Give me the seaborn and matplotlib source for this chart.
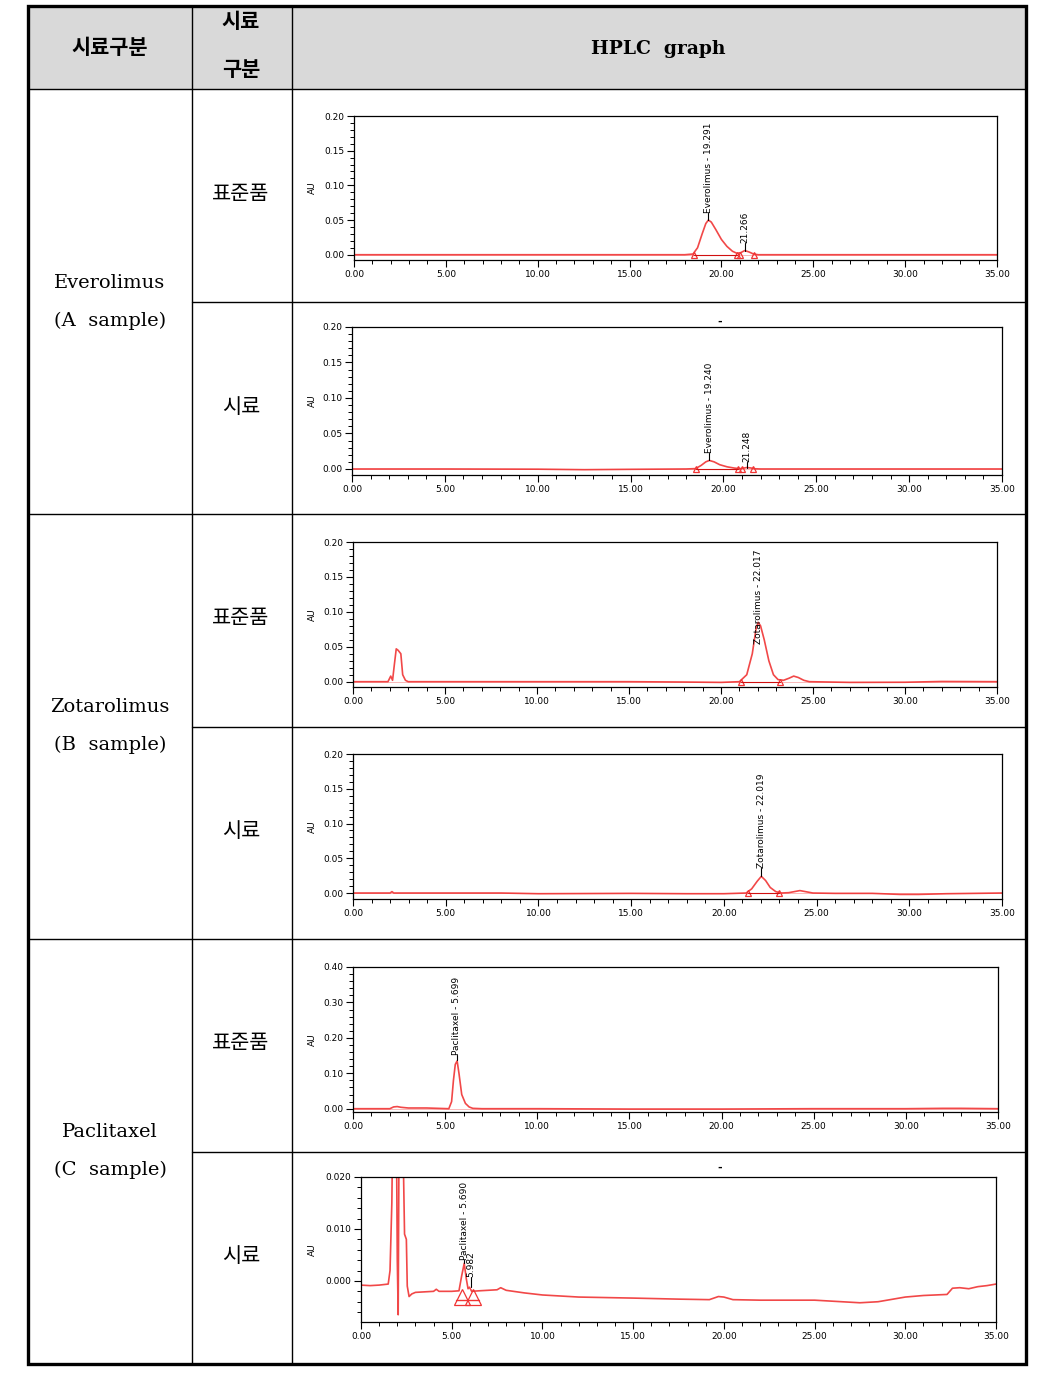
import numpy as np
import seaborn as sns
import matplotlib
matplotlib.use("Agg")
import matplotlib.pyplot as plt
from matplotlib.lines import Line2D
from matplotlib.patches import Rectangle
from matplotlib.ticker import MultipleLocator, FormatStrFormatter

# ---- data ----
# Everolimus standard
ever_std_t = [0, 5, 10, 15, 18.0, 18.45, 18.7, 18.95, 19.15, 19.29, 19.45, 19.7, 20.0, 20.3,
              20.6, 20.85, 21.05, 21.27, 21.5, 21.75, 22.0, 25, 30, 35]
ever_std_au = [0, 0, 0, 0, 0, 0.001, 0.010, 0.030, 0.045, 0.050, 0.047, 0.036, 0.022, 0.012,
               0.005, 0.002, 0.003, 0.006, 0.004, 0.001, 0.0, 0, 0, 0]
# Everolimus sample
ever_smp_t = [0, 5, 10, 12.5, 15, 18.0, 18.5, 18.8, 19.05, 19.24, 19.5, 19.8, 20.2, 20.6,
              20.9, 21.05, 21.25, 21.45, 21.7, 22.0, 25, 30, 35]
ever_smp_au = [0, 0, -0.0003, -0.001, -0.0005, 0, 0.0005, 0.005, 0.010, 0.012, 0.010, 0.006,
               0.003, 0.0012, 0.0005, 0.001, 0.002, 0.0015, 0.0003, 0, 0, 0, 0]
# Zotarolimus standard
zota_std_t = [0, 1.9, 2.05, 2.15, 2.25, 2.35, 2.45, 2.6, 2.7, 2.85, 3.0, 5, 10, 15, 18, 20,
              21.0, 21.4, 21.7, 21.9, 22.02, 22.15, 22.35, 22.6, 22.85, 23.1, 23.4, 23.7,
              23.95, 24.2, 24.5, 24.8, 27, 30, 32, 35]
zota_std_au = [0, 0, 0.008, 0.002, 0.025, 0.047, 0.045, 0.040, 0.010, 0.002, 0, 0, 0, 0,
               -0.0005, -0.001, 0, 0.010, 0.040, 0.075, 0.085, 0.080, 0.060, 0.030, 0.010,
               0.003, 0.002, 0.005, 0.008, 0.006, 0.002, 0, -0.001, -0.0008, 0.0003, 0]
# Zotarolimus sample
zota_smp_t = [0, 2.0, 2.1, 2.2, 5, 8, 9, 10, 15, 18, 20, 21.2, 21.5, 21.8, 22.02, 22.25,
              22.5, 22.8, 23.1, 23.5, 23.8, 24.1, 24.4, 24.8, 26, 28, 29.5, 30.5, 32, 35]
zota_smp_au = [0, 0, 0.002, 0.0, 0, 0, -0.0005, -0.001, -0.0005, -0.001, -0.001, 0, 0.006,
               0.017, 0.024, 0.018, 0.008, 0.002, 0, 0.0005, 0.002, 0.0035, 0.002, 0,
               -0.0005, -0.0005, -0.002, -0.002, -0.001, 0]
# Paclitaxel standard
pacl_std_t = [0, 2.0, 2.2, 2.4, 2.6, 3.0, 4.0, 5.2, 5.35, 5.45, 5.55, 5.65, 5.75, 5.9, 6.1,
              6.3, 6.5, 7, 10, 15, 20, 25, 30, 32, 33, 35]
pacl_std_au = [0, 0, 0.005, 0.006, 0.004, 0.002, 0.002, 0.0, 0.020, 0.080, 0.125, 0.135,
               0.100, 0.040, 0.015, 0.005, 0.001, 0, 0, -0.001, -0.001, 0, 0, 0.001, 0.001, 0]
# Paclitaxel sample
pacl_smp_t = [0, 0.5, 1.0, 1.5, 1.6, 1.7, 1.75, 1.85, 1.95, 2.0, 2.05, 2.1, 2.2, 2.3, 2.4,
              2.5, 2.55, 2.65, 2.8, 3.0, 3.5, 4.0, 4.15, 4.3, 5.0, 5.4, 5.55, 5.69, 5.8,
              5.9, 5.98, 6.1, 6.5, 7.0, 7.5, 7.7, 8.0, 9.0, 10.0, 12.0, 15.0, 17.5, 19.2,
              19.7, 20.0, 20.5, 22.0, 24.0, 25.0, 27.5, 28.5, 30.0, 31.0, 32.3, 32.6, 33.0,
              33.5, 34.0, 34.5, 35.0]
pacl_smp_au = [-0.0008, -0.0009, -0.0008, -0.0006, 0.002, 0.015, 0.030, 0.030, 0.030, 0.004,
               -0.0065, 0.030, 0.030, 0.030, 0.009, 0.008, -0.001, -0.003, -0.0025, -0.0022,
               -0.0021, -0.0020, -0.0016, -0.0020, -0.0020, -0.0019, 0.0010, 0.0034, 0.0005,
               -0.0015, -0.0012, -0.0020, -0.0019, -0.0018, -0.0017, -0.0013, -0.0018,
               -0.0023, -0.0027, -0.0031, -0.0033, -0.0035, -0.0036, -0.0030, -0.0031,
               -0.0036, -0.0037, -0.0037, -0.0037, -0.0042, -0.0040, -0.0031, -0.0028,
               -0.0026, -0.0014, -0.0013, -0.0015, -0.0011, -0.0009, -0.0006]

# peak labels: (text, retention time, peak top, text start)
ever_std_peaks = [("Everolimus - 19.291", 19.29, 0.050, 0.060), ("21.266", 21.27, 0.006, 0.0165)]
ever_smp_peaks = [("Everolimus - 19.240", 19.24, 0.012, 0.023), ("21.248", 21.25, 0.002, 0.010)]
zota_std_peaks = [("Zotarolimus - 22.017", 22.02, 0.085, 0.054)]
zota_smp_peaks = [("Zotarolimus - 22.019", 22.02, 0.024, 0.036)]
pacl_std_peaks = [("Paclitaxel - 5.699", 5.62, 0.138, 0.152)]
pacl_smp_peaks = [("Paclitaxel - 5.690", 5.69, 0.0034, 0.0040), ("5.982", 6.05, -0.0012, 0.0008)]

# integration boundaries (time, au)
ever_std_bounds = [(18.5, 0.0), (20.85, 0.0), (21.0, 0.0), (21.8, 0.0)]
ever_smp_bounds = [(18.5, -0.0005), (20.8, -0.0005), (21.0, -0.0005), (21.6, -0.0005)]
zota_std_bounds = [(21.1, -0.0005), (23.2, -0.0005)]
zota_smp_bounds = [(21.3, -0.0005), (22.95, -0.0005)]
pacl_std_bounds = []
pacl_smp_bounds = [(5.55, -0.0030), (6.15, -0.0030)]

drug_names = ["Everolimus", "Zotarolimus", "Paclitaxel"]
sample_names = ["(A  sample)", "(B  sample)", "(C  sample)"]
kind_names = ["표준품", "시료"]
header_texts = ["시료구분", "시료\n구분", "HPLC  graph"]

# ---- figure / table layout (pixels) ----
W, H = 1039, 1373
RED = "#f03434"

sns.set_style("ticks")
plt.rcParams["font.family"] = ["DejaVu Sans", "Noto Sans CJK KR"]
for k in ["text.color", "axes.labelcolor", "xtick.color", "ytick.color", "axes.edgecolor"]:
    plt.rcParams[k] = "black"

fig = plt.figure(figsize=(W / 100, H / 100), dpi=100)


def fx(px):
    return px / W


def fy(py):
    return 1 - py / H


def hline(y, x0, x1, lw=1.0):
    fig.add_artist(Line2D([fx(x0), fx(x1)], [fy(y), fy(y)], color="black", lw=lw))


def vline(x, y0, y1, lw=1.0):
    fig.add_artist(Line2D([fx(x), fx(x)], [fy(y0), fy(y1)], color="black", lw=lw))


L, R, T, B = 28, 1026, 6, 1364
C1, C2 = 191.5, 291.5
HB = 89
fig.add_artist(Rectangle((fx(L), fy(HB)), fx(R) - fx(L), fy(T) - fy(HB),
                         facecolor="#d9d9d9", edgecolor="none", zorder=0))
hline(HB, L, R)
for y in [302, 727, 1152]:
    hline(y, C1, R)
for y in [514, 939]:
    hline(y, L, R)
vline(C1, T, B)
vline(C2, T, B)
fig.add_artist(Rectangle((fx(L), fy(B)), fx(R) - fx(L), fy(T) - fy(B),
                         facecolor="none", edgecolor="black", lw=2.4, zorder=5))

# header
fig.text(fx(110), fy(47), header_texts[0], ha="center", va="center", fontsize=15,
         fontweight="bold", family="Noto Sans CJK KR")
fig.text(fx(241), fy(22), header_texts[1].split("\n")[0], ha="center", va="center",
         fontsize=15, fontweight="bold", family="Noto Sans CJK KR")
fig.text(fx(241), fy(70), header_texts[1].split("\n")[1], ha="center", va="center",
         fontsize=15, fontweight="bold", family="Noto Sans CJK KR")
fig.text(fx(658), fy(49), header_texts[2], ha="center", va="center", fontsize=13.5,
         fontweight="bold", family="DejaVu Serif")

group_tops = [90, 514, 939]
for g, top in enumerate(group_tops):
    mid = top + 212
    fig.text(fx(110), fy(mid - 19), drug_names[g], ha="center", va="center",
             fontsize=14, family="DejaVu Serif")
    fig.text(fx(110), fy(mid + 19), sample_names[g], ha="center", va="center",
             fontsize=14, family="DejaVu Serif")
    fig.text(fx(241), fy(top + 104), kind_names[0], ha="center", va="center",
             fontsize=15, family="Noto Sans CJK KR")
    fig.text(fx(241), fy(top + 317), kind_names[1], ha="center", va="center",
             fontsize=15, family="Noto Sans CJK KR")


def draw_chrom(rect, t, au, ylim, ymajor, yminor, yfmt, peaks, bounds, big=False):
    l, r, tp, bt = rect
    ax = fig.add_axes([fx(l), fy(bt), fx(r) - fx(l), fy(tp) - fy(bt)])
    sns.lineplot(x=t, y=au, ax=ax, color=RED, lw=1.2, estimator=None, sort=False, alpha=0.9)
    if not big:
        ax.axhline(au[0], color=RED, lw=0.6, alpha=0.4)
    ax.set_xlim(0, 35)
    ax.set_ylim(*ylim)
    ax.set_xticks(np.arange(0, 36, 5))
    ax.xaxis.set_major_formatter(FormatStrFormatter("%.2f"))
    ax.xaxis.set_minor_locator(MultipleLocator(1))
    ax.set_yticks(np.arange(0, ylim[1] + ymajor / 2, ymajor))
    ax.yaxis.set_major_formatter(FormatStrFormatter(yfmt))
    ax.yaxis.set_minor_locator(MultipleLocator(yminor))
    ax.tick_params(which="major", length=5, width=0.8, labelsize=6.5, pad=2, direction="out")
    ax.tick_params(which="minor", length=3, width=0.7, direction="out")
    for s in ax.spines.values():
        s.set_linewidth(0.9)
        s.set_color("black")
    ax.set_xlabel("")
    ax.set_ylabel("AU", fontsize=6.5)
    ax.yaxis.set_label_coords((317 - l) / (r - l), 0.5)
    for label, rt, top, start in peaks:
        if start > top:
            ax.plot([rt, rt], [top, start], color="black", lw=0.8)
        ax.text(rt, start, label, rotation=90, ha="center", va="bottom", fontsize=6.5)
    if bounds:
        bt_t = [b[0] for b in bounds]
        bt_y = [b[1] for b in bounds]
        ms = 11 if big else 5
        ax.plot(bt_t, bt_y, ls="none", marker="^", ms=ms, mfc="none", mec=RED, mew=0.9)
        if big:
            ax.plot([5.25, 6.5], [-0.0037, -0.0037], color=RED, lw=1)
        else:
            ax.plot([bt_t[0], bt_t[1]], [bt_y[0], bt_y[1]], color="#d01010", lw=0.8)
    return ax


draw_chrom((354, 997, 116, 260), ever_std_t, ever_std_au, (-0.0076, 0.2), 0.05, 0.01,
           "%.2f", ever_std_peaks, ever_std_bounds)
draw_chrom((352, 1002, 327, 475), ever_smp_t, ever_smp_au, (-0.0085, 0.2), 0.05, 0.01,
           "%.2f", ever_smp_peaks, ever_smp_bounds)
draw_chrom((353, 997, 542, 687), zota_std_t, zota_std_au, (-0.0076, 0.2), 0.05, 0.01,
           "%.2f", zota_std_peaks, zota_std_bounds)
draw_chrom((353, 1002, 754, 899), zota_smp_t, zota_smp_au, (-0.0086, 0.2), 0.05, 0.01,
           "%.2f", zota_smp_peaks, zota_smp_bounds)
draw_chrom((353, 998, 967, 1112), pacl_std_t, pacl_std_au, (-0.0093, 0.4), 0.1, 0.02,
           "%.2f", pacl_std_peaks, pacl_std_bounds)
draw_chrom((361, 996, 1177, 1322), pacl_smp_t, pacl_smp_au, (-0.0079, 0.020), 0.010, 0.002,
           "%.3f", pacl_smp_peaks, pacl_smp_bounds, big=True)

# small stray marks from the original screenshots
fig.text(fx(720), fy(322), "-", ha="center", va="center", fontsize=8, fontweight="bold")
fig.text(fx(720), fy(1168), "-", ha="center", va="center", fontsize=8, fontweight="bold")

fig.savefig("out.png", dpi=100)
